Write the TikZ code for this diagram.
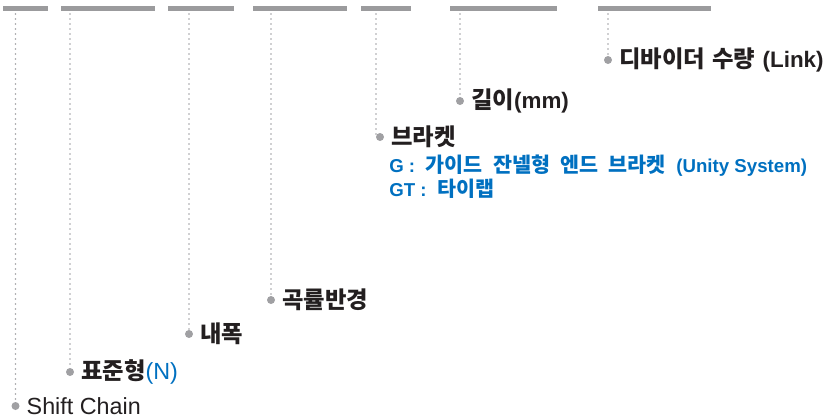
\documentclass[tikz,border=0pt]{standalone}
\usepackage{fontspec}
\setmainfont{Liberation Sans}
\newfontfamily\kr[WordSpace=2.2]{Noto Sans CJK KR}
\usetikzlibrary{positioning}
\definecolor{barg}{RGB}{155,155,157}
\definecolor{dotg}{RGB}{160,160,163}
\definecolor{ink}{RGB}{35,31,32}
\definecolor{blu}{RGB}{0,112,192}
\newcommand\ltn[2][16.8]{{\rmfamily\fontsize{#1}{20}\selectfont #2}}
\newcommand\gap{\hspace{5.5pt}}

\begin{document}
\begin{tikzpicture}[x=0.75pt,y=-0.75pt,
        bar/.style={fill=barg},
        tick/.style={dotg,line width=1.3pt,line cap=round,dash pattern=on 0pt off 3.75pt},
        pin/.style={circle,fill=dotg,inner sep=0pt,minimum size=6pt},
        lbl/.style={right=5pt of #1,inner sep=0pt,text=ink,font=\fontsize{17.5}{21}\selectfont\kr\bfseries},
        sub/.style={anchor=west,inner sep=0pt,text=blu,font=\fontsize{15.5}{18}\selectfont\kr\bfseries}]
        \useasboundingbox (0,0) rectangle (831,419);
        \fill[bar] (3,6)   rectangle (48,11);
        \fill[bar] (61,6)  rectangle (155,11);
        \fill[bar] (168,6) rectangle (234,11);
        \fill[bar] (253,6) rectangle (347,11);
        \fill[bar] (361,6) rectangle (411,11);
        \fill[bar] (450,6) rectangle (557,11);
        \fill[bar] (598,6) rectangle (711,11);
        \coordinate (t1) at (15.5,14);
        \coordinate (t2) at (70,14);
        \coordinate (t3) at (189,14);
        \coordinate (t4) at (271,14);
        \coordinate (t5) at (376,14);
        \coordinate (t6) at (460,14);
        \coordinate (t7) at (608,14);
        \node[pin] (p1) at (15.5,406) {};
        \node[pin] (p2) at (70,372) {};
        \node[pin] (p3) at (189,334) {};
        \node[pin] (p4) at (271,300) {};
        \node[pin] (p5) at (380,137) {};
        \node[pin] (p6) at (460,101) {};
        \node[pin] (p7) at (608,60) {};
        \node[lbl=p1,font=\fontsize{17.5}{20}\selectfont\rmfamily\mdseries] (l1) {Shift Chain};
        \node[lbl=p2] (l2) {표준형\textcolor{blu}{\mdseries\ltn[17.5]{(N)}}};
        \node[lbl=p3] (l3) {내폭};
        \node[lbl=p4] (l4) {곡률반경};
        \node[lbl=p5] (l5) {브라켓};
        \node[lbl=p6] (l6) {길이\ltn{(mm)}};
        \node[lbl=p7] (l7) {디바이더\gap 수량\gap\ltn{(Link)}};
        \node[sub] (g1) at (389,166) {\ltn[14]{G :} 가이드 잔넬형 엔드 브라켓 \ltn[14]{(Unity System)}};
        \node[sub] (g2) at (389,189) {\ltn[14]{GT :} 타이랩};
        \draw[tick] (t1) -- (p1);
        \draw[tick] (t2) -- (p2);
        \draw[tick] (t3) -- (p3);
        \draw[tick] (t4) -- (p4);
        \draw[tick] (t5) |- (p5.west);
        \draw[tick] (t6) -- (p6);
        \draw[tick] (t7) -- (p7);
\end{tikzpicture}
\end{document}
